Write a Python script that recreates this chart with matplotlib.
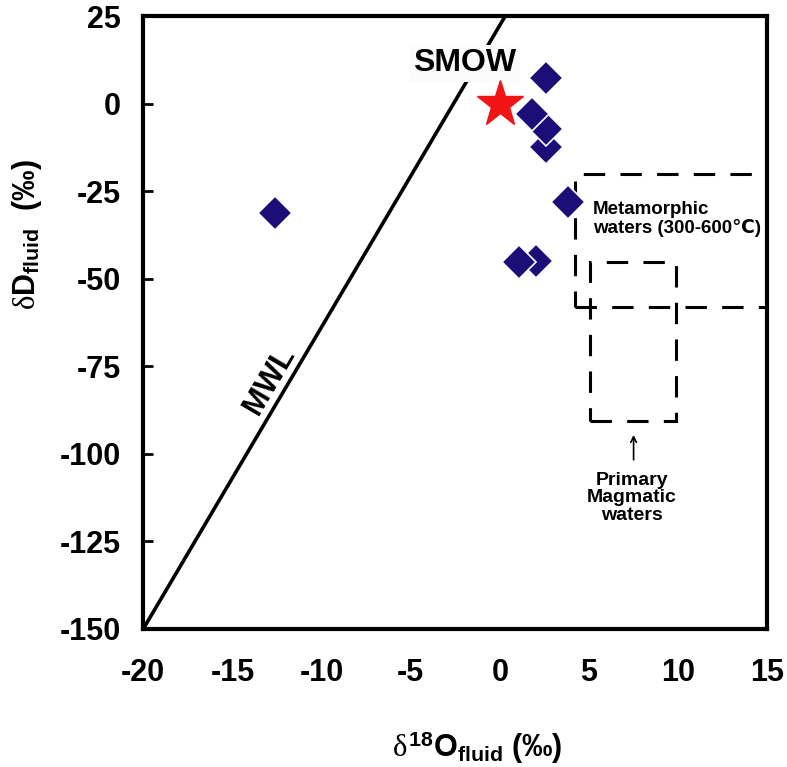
import matplotlib
matplotlib.use("Agg")
import matplotlib.pyplot as plt
from matplotlib.patches import Rectangle

plt.rcParams['font.family'] = ['Liberation Sans', 'DejaVu Sans']
plt.rcParams['font.weight'] = 'bold'
plt.rcParams['axes.unicode_minus'] = False
plt.rcParams['mathtext.fontset'] = 'custom'
plt.rcParams['mathtext.rm'] = 'Liberation Serif:normal'
plt.rcParams['mathtext.it'] = 'Liberation Serif:normal'
plt.rcParams['mathtext.bf'] = 'Liberation Sans:bold'

# fluid isotope data (lowest first so upper points sit on top)
o18 = [-12.6, 2.0, 1.1, 3.8, 2.6, 2.6, 1.8, 2.6]
dD = [-31.1, -45.0, -45.1, -28.0, -12.3, -7.2, -2.9, 7.3]

# meteoric water line end points
mwl_x = [-20, 0.3]
mwl_y = [-150, 25]

# reference fields (x0, x1, y0, y1)
meta_box = (4.2, 20, -58, -20)
magma_box = (5.05, 9.9, -90.5, -45.3)

xticks = [-20, -15, -10, -5, 0, 5, 10, 15]
yticks = [-150, -125, -100, -75, -50, -25, 0, 25]

fig = plt.figure(figsize=(7.87, 7.67), dpi=100)
ax = fig.add_axes([0.182, 0.18, 0.793, 0.799])

ax.plot(mwl_x, mwl_y, color='black', lw=2.6, zorder=2)

for x0, x1, y0, y1 in [meta_box, magma_box]:
    ax.add_patch(Rectangle((x0, y0), x1 - x0, y1 - y0, fill=False,
                           edgecolor='black', lw=2.2,
                           linestyle=(0, (7, 5)), zorder=1))

ax.plot(o18, dD, linestyle='none', marker='D', markersize=17,
        color='#1c0e78', markeredgecolor='white', markeredgewidth=1.2, zorder=4)
ax.plot([0], [0], linestyle='none', marker='*', markersize=35,
        color='#f01414', markeredgecolor='#f01414', zorder=4)

ax.text(-1.95, 11.5, 'SMOW', fontsize=23, fontweight='bold', ha='center', va='center',
        bbox=dict(facecolor='#fbfbfb', edgecolor='none', pad=2.5), zorder=3)
ax.text(-12.9, -79, 'MWL', fontsize=22, fontweight='bold', ha='center', va='center',
        rotation=59.5)
ax.text(5.2, -33, 'Metamorphic\nwaters (300-600\u2103)', fontsize=13.5, fontweight='bold',
        ha='left', va='center', linespacing=1.1)
ax.text(7.42, -112.6, 'Primary\nMagmatic\nwaters', fontsize=14, fontweight='bold',
        ha='center', va='center', linespacing=1.05)
ax.annotate('', xy=(7.5, -93.8), xytext=(7.5, -102.5),
            arrowprops=dict(arrowstyle='->', color='black', lw=1.2))

ax.set_xlim(-20, 15)
ax.set_ylim(-150, 25)
ax.set_xticks(xticks)
ax.set_yticks(yticks)
ax.tick_params(axis='x', length=0, pad=21, labelsize=22)
ax.tick_params(axis='y', direction='in', length=7, width=2, pad=16, labelsize=22)
for lab in ax.get_xticklabels() + ax.get_yticklabels():
    lab.set_fontweight('bold')
for s in ax.spines.values():
    s.set_linewidth(3)

fig.text(477 / 787, 1 - 748 / 767, r'$\delta^{\mathbf{18}}\mathbf{O}_{\mathbf{fluid}}$ (‰)',
         fontsize=22, ha='center', va='center')
fig.text(27 / 787, 1 - 235 / 767, r'$\delta\mathbf{D}_{\mathbf{fluid}}$  (‰)',
         fontsize=22, ha='center', va='center', rotation=90)

fig.savefig('out.png', dpi=100)
